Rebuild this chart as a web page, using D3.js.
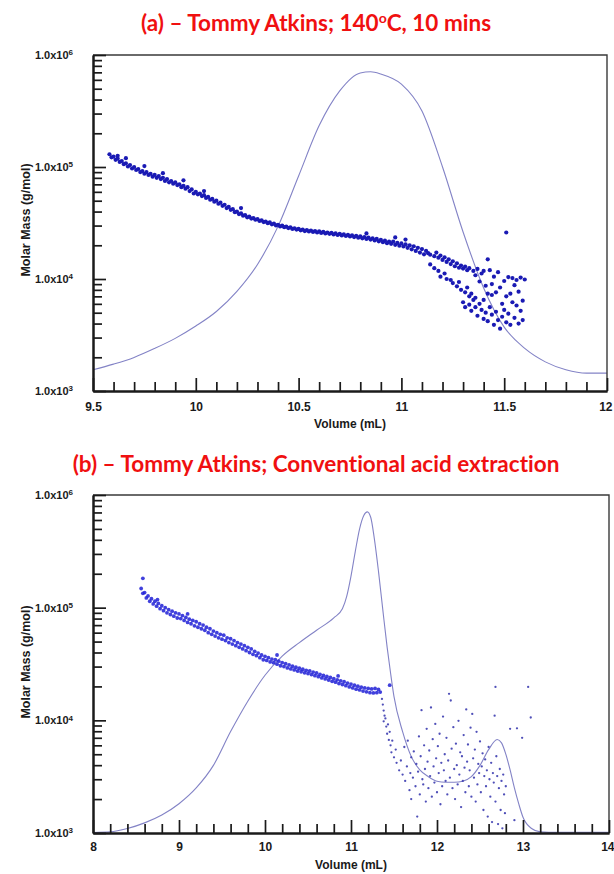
<!DOCTYPE html>
<html>
<head>
<meta charset="utf-8">
<script src="https://cdn.jsdelivr.net/npm/d3@7"></script>
<style>
  body { margin: 0; background: #fff; }
  svg { display: block; }
</style>
</head>
<body>
<svg id="chart" width="614" height="874"></svg>
<script>
// Chart size
const width = 614;
const height = 874;

// Shared y axis (molar mass, log)
const yMajorTicks = [1e3, 1e4, 1e5, 1e6];

// ---- Panel (a): Tommy Atkins; 140 °C, 10 mins ----
const titleA = ['(a) \u2013 Tommy Atkins; 140', 'o', 'C, 10 mins'];
const xDomainA = [9.5, 12];
const xMajorTicksA = [9.5, 10, 10.5, 11, 11.5, 12];
const xTickLabelsA = ['9.5', '10', '10.5', '11', '11.5', '12'];
const xMinorTicksA = [9.6, 9.7, 9.8, 9.9, 10.1, 10.2, 10.3, 10.4, 10.6, 10.7, 10.8, 10.9,
  11.1, 11.2, 11.3, 11.4, 11.6, 11.7, 11.8, 11.9];

// RI trace of panel (a), placed on the molar mass axis [volume, value]
const traceA = [
  [9.5, 1549], [9.6, 1738], [9.7, 1995], [9.8, 2399], [9.9, 2951], [10.0, 3802],
  [10.1, 5129], [10.2, 7762], [10.3, 13490], [10.4, 29510], [10.5, 83180], [10.6, 234400],
  [10.7, 478600], [10.8, 691800], [10.85, 707900], [10.9, 676100], [11.0, 549500],
  [11.1, 316200], [11.2, 100000], [11.3, 26300], [11.4, 8318], [11.5, 3715], [11.6, 2399],
  [11.7, 1820], [11.8, 1549], [11.9, 1445], [12.0, 1445]
];

// Molar mass points of panel (a) [volume (mL), g/mol]
const massA = [
  [9.58, 130e3], [9.59, 122e3], [9.60, 124e3], [9.61, 116e3], [9.62, 119e3], [9.63, 111e3],
  [9.64, 113e3], [9.65, 106e3], [9.66, 108e3], [9.67, 101e3], [9.68, 104e3], [9.69, 97e3],
  [9.70, 100e3], [9.71, 94e3], [9.72, 96e3], [9.73, 90e3], [9.74, 92e3], [9.75, 87e3],
  [9.76, 90e3], [9.77, 85e3], [9.78, 87e3], [9.79, 82e3], [9.80, 85e3], [9.81, 80e3],
  [9.82, 83e3], [9.83, 78e3], [9.84, 80e3], [9.85, 75e3], [9.86, 78e3], [9.87, 73e3],
  [9.88, 75e3], [9.89, 71e3], [9.90, 73e3], [9.91, 69e3], [9.92, 70e3], [9.93, 66e3],
  [9.94, 68e3], [9.95, 64e3], [9.96, 66e3], [9.97, 61e3], [9.98, 63e3], [9.99, 58e3],
  [10.00, 60e3], [10.01, 57e3], [10.02, 58e3], [10.03, 55e3], [10.04, 56e3], [10.05, 53e3],
  [10.06, 54e3], [10.07, 51e3], [10.08, 52e3], [10.09, 49e3], [10.10, 50e3], [10.11, 47e3],
  [10.12, 48e3], [10.13, 45e3], [10.14, 46e3], [10.15, 43e3], [10.16, 44e3], [10.17, 41.5e3],
  [10.18, 42e3], [10.19, 39.5e3], [10.20, 40e3], [10.21, 38e3], [10.22, 38.5e3], [10.23, 36.8e3],
  [10.24, 37.2e3], [10.25, 35.5e3], [10.26, 36e3], [10.27, 34.6e3], [10.28, 35e3], [10.29, 33.8e3],
  [10.30, 34.2e3], [10.31, 33e3], [10.32, 33.4e3], [10.33, 32.2e3], [10.34, 32.6e3], [10.35, 31.5e3],
  [10.36, 32e3], [10.37, 30.8e3], [10.38, 31.2e3], [10.39, 30.1e3], [10.40, 30.5e3], [10.41, 29.5e3],
  [10.42, 30e3], [10.43, 29e3], [10.44, 29.4e3], [10.45, 28.5e3], [10.46, 28.9e3], [10.47, 28e3],
  [10.48, 28.4e3], [10.49, 27.6e3], [10.50, 28e3], [10.51, 27.2e3], [10.52, 27.6e3], [10.53, 26.8e3],
  [10.54, 27.3e3], [10.55, 26.6e3], [10.56, 27.1e3], [10.57, 26.3e3], [10.58, 26.8e3], [10.59, 26e3],
  [10.60, 26.6e3], [10.61, 25.8e3], [10.62, 26.3e3], [10.63, 25.5e3], [10.64, 26e3], [10.65, 25.3e3],
  [10.66, 25.8e3], [10.67, 25e3], [10.68, 25.5e3], [10.69, 24.7e3], [10.70, 25.3e3], [10.71, 24.5e3],
  [10.72, 25e3], [10.73, 24.2e3], [10.74, 24.8e3], [10.75, 24e3], [10.76, 24.5e3], [10.77, 23.7e3],
  [10.78, 24.3e3], [10.79, 23.4e3], [10.80, 24e3], [10.81, 23.1e3], [10.82, 23.7e3], [10.83, 22.8e3],
  [10.84, 23.4e3], [10.85, 22.5e3], [10.86, 23.1e3], [10.87, 22.1e3], [10.88, 22.8e3], [10.89, 21.7e3],
  [10.90, 22.4e3], [10.91, 21.3e3], [10.92, 22e3], [10.93, 20.9e3], [10.94, 21.6e3], [10.95, 20.6e3],
  [10.96, 21.6e3], [10.97, 20.2e3], [10.98, 21e3], [10.99, 19.8e3], [11.00, 20.8e3], [11.01, 19.5e3],
  [11.02, 20.4e3], [11.03, 19e3], [11.04, 20e3], [11.05, 18.4e3], [11.06, 19.6e3], [11.07, 17.8e3],
  [11.08, 19e3], [11.09, 17.2e3], [11.10, 18.5e3], [11.11, 16.6e3], [11.12, 17.8e3],
  // spikes above the band
  [9.62, 126e3], [9.66, 120e3], [9.75, 102e3], [9.84, 88e3], [9.94, 76e3], [10.04, 61e3],
  [10.22, 43e3], [10.83, 25.5e3], [10.97, 23.5e3], [11.02, 22.5e3],
  // upper branch
  [11.13, 17e3], [11.14, 16.5e3], [11.16, 16e3], [11.17, 17.2e3], [11.18, 15.5e3], [11.19, 16.2e3],
  [11.20, 14.8e3], [11.21, 15.6e3], [11.22, 14.2e3], [11.23, 15e3], [11.24, 13.6e3], [11.25, 14.4e3],
  [11.26, 13e3], [11.27, 13.8e3], [11.28, 12.6e3], [11.29, 13.2e3], [11.30, 12.4e3], [11.31, 12.9e3],
  [11.32, 12e3], [11.33, 12.5e3], [11.35, 11.8e3], [11.37, 12.3e3], [11.39, 11.2e3],
  // lower branch
  [11.14, 13.5e3], [11.16, 12.5e3], [11.18, 11.8e3], [11.19, 10.5e3], [11.21, 11.2e3], [11.22, 10e3],
  [11.24, 9.8e3], [11.25, 9.2e3], [11.27, 8.6e3], [11.28, 9.4e3], [11.29, 8e3], [11.31, 7.6e3],
  [11.32, 8.4e3], [11.33, 7e3], [11.34, 7.4e3], [11.35, 6.5e3],
  // scattered tail
  [11.30, 6200], [11.31, 5600], [11.33, 5900], [11.34, 5200], [11.36, 6800], [11.36, 5600],
  [11.37, 4700], [11.38, 6000], [11.39, 5300], [11.40, 6500], [11.40, 4400], [11.41, 5000],
  [11.42, 15000], [11.42, 7400], [11.42, 4200], [11.43, 5600], [11.44, 4800], [11.44, 9000],
  [11.45, 3900], [11.45, 10500], [11.46, 5100], [11.46, 7600], [11.47, 4300], [11.47, 11500],
  [11.48, 3600], [11.48, 8400], [11.49, 6000], [11.49, 4600], [11.50, 9600], [11.50, 5300],
  [11.51, 26000], [11.51, 7000], [11.51, 4100], [11.52, 10400], [11.52, 4900], [11.53, 7400],
  [11.53, 3900], [11.54, 10200], [11.54, 6200], [11.55, 4500], [11.55, 8800], [11.56, 9800],
  [11.56, 5800], [11.57, 4000], [11.57, 7700], [11.58, 10300], [11.58, 5200], [11.59, 6400],
  [11.59, 4300], [11.60, 9900], [11.36, 10800], [11.38, 9500], [11.40, 11800], [11.41, 8700],
  [11.43, 12000], [11.44, 7200]
];

// ---- Panel (b): Tommy Atkins; conventional acid extraction ----
const titleB = ['(b) \u2013 Tommy Atkins; Conventional acid extraction'];
const xDomainB = [8, 14];
const xMajorTicksB = [8, 9, 10, 11, 12, 13, 14];
const xTickLabelsB = ['8', '9', '10', '11', '12', '13', '14'];
const xMinorTicksB = [8.2, 8.4, 8.6, 8.8, 9.2, 9.4, 9.6, 9.8, 10.2, 10.4, 10.6, 10.8,
  11.2, 11.4, 11.6, 11.8, 12.2, 12.4, 12.6, 12.8, 13.2, 13.4, 13.6, 13.8];

const traceB = [
  [8.0, 1010], [8.2, 1023], [8.4, 1096], [8.6, 1230], [8.8, 1445], [9.0, 1820], [9.2, 2512],
  [9.4, 3981], [9.6, 7943], [9.8, 14790], [10.0, 25120], [10.2, 37150], [10.4, 48980],
  [10.6, 63100], [10.8, 81280], [10.9, 97720], [10.95, 125900], [11.0, 190500], [11.05, 316200],
  [11.1, 501200], [11.15, 660700], [11.19, 707900], [11.23, 631000], [11.27, 416900],
  [11.32, 208900], [11.37, 95500], [11.42, 44670], [11.46, 26300], [11.5, 16220], [11.6, 7943],
  [11.7, 4786], [11.8, 3631], [11.9, 3162], [12.0, 2884], [12.1, 2818], [12.2, 2818],
  [12.3, 2884], [12.4, 3162], [12.5, 3981], [12.6, 5495], [12.7, 6761], [12.75, 6310],
  [12.8, 5012], [12.85, 3631], [12.9, 2512], [12.95, 1820], [13.0, 1380], [13.1, 1096],
  [13.2, 1023], [13.4, 1012], [14.0, 1012]
];

// Main molar mass band of panel (b)
const bandB = [
  [8.56, 148e3], [8.58, 134e3], [8.60, 136e3], [8.62, 122e3], [8.64, 127e3], [8.66, 114e3],
  [8.68, 120e3], [8.70, 108e3], [8.72, 114e3], [8.74, 103e3], [8.76, 109e3], [8.78, 98e3],
  [8.80, 104e3], [8.82, 94e3], [8.84, 100e3], [8.86, 90e3], [8.88, 96e3], [8.90, 87e3],
  [8.92, 93e3], [8.94, 84e3], [8.96, 90e3], [8.98, 81e3], [9.00, 88e3], [9.02, 80e3],
  [9.04, 85e3], [9.06, 77e3], [9.08, 82e3], [9.10, 74e3], [9.12, 79e3], [9.14, 72e3],
  [9.16, 77e3], [9.18, 69e3], [9.20, 75e3], [9.22, 67e3], [9.24, 72e3], [9.26, 65e3],
  [9.28, 70e3], [9.30, 63e3], [9.32, 67e3], [9.34, 60e3], [9.36, 65e3], [9.38, 58e3],
  [9.40, 62e3], [9.42, 56e3], [9.44, 60e3], [9.46, 54e3], [9.48, 58e3], [9.50, 52.5e3],
  [9.52, 57e3], [9.54, 51e3], [9.56, 54e3], [9.58, 49e3], [9.60, 53e3], [9.62, 47.5e3],
  [9.64, 51e3], [9.66, 46e3], [9.68, 49e3], [9.70, 44.5e3], [9.72, 47.5e3], [9.74, 43e3],
  [9.76, 46e3], [9.78, 41.5e3], [9.80, 44.5e3], [9.82, 40e3], [9.84, 43e3], [9.86, 38.5e3],
  [9.88, 41e3], [9.90, 37.5e3], [9.92, 39.5e3], [9.94, 36e3], [9.96, 38e3], [9.98, 34.5e3],
  [10.00, 37e3], [10.02, 34e3], [10.04, 36e3], [10.06, 33e3], [10.08, 35e3], [10.10, 32.5e3],
  [10.12, 34.5e3], [10.14, 31.5e3], [10.16, 33.5e3], [10.18, 30.5e3], [10.20, 32.5e3], [10.22, 30e3],
  [10.24, 31.8e3], [10.26, 29.2e3], [10.28, 31e3], [10.30, 28.6e3], [10.32, 30.2e3], [10.34, 28e3],
  [10.36, 29.6e3], [10.38, 27.4e3], [10.40, 29e3], [10.42, 27e3], [10.44, 28.4e3], [10.46, 26.4e3],
  [10.48, 27.8e3], [10.50, 26e3], [10.52, 27.4e3], [10.54, 25.5e3], [10.56, 26.8e3], [10.58, 24.9e3],
  [10.60, 26.3e3], [10.62, 24.4e3], [10.64, 25.6e3], [10.66, 23.8e3], [10.68, 25e3], [10.70, 23.3e3],
  [10.72, 24.5e3], [10.74, 22.8e3], [10.76, 24e3], [10.78, 22.2e3], [10.80, 23.4e3], [10.82, 21.8e3],
  [10.84, 22.9e3], [10.86, 21.2e3], [10.88, 22.4e3], [10.90, 20.8e3], [10.92, 22e3], [10.94, 20.3e3],
  [10.96, 21.4e3], [10.98, 19.8e3], [11.00, 21e3], [11.02, 19.4e3], [11.04, 20.5e3], [11.06, 18.9e3],
  [11.08, 20.1e3], [11.10, 18.6e3], [11.12, 19.7e3], [11.14, 18.2e3], [11.16, 19.4e3], [11.18, 17.9e3],
  [11.20, 19.2e3], [11.22, 17.6e3], [11.24, 19e3], [11.26, 17.5e3], [11.28, 19.2e3], [11.30, 17.6e3],
  [11.32, 18.8e3], [11.34, 17.8e3],
  [8.58, 182e3], [8.75, 118e3], [9.10, 88e3], [10.14, 38e3], [10.85, 24.8e3], [11.45, 20.5e3]
];

// Low molar mass points of panel (b)
const cloudB = [
  [11.36, 15500], [11.37, 13800], [11.38, 12200], [11.39, 11000], [11.38, 9800], [11.40, 10400],
  [11.41, 8800], [11.42, 7600], [11.43, 9200], [11.44, 6700], [11.45, 7900], [11.46, 6000],
  [11.47, 5200], [11.48, 6600], [11.50, 4700], [11.52, 5500], [11.53, 4200],
  [11.56, 3600], [11.58, 4400], [11.60, 3300], [11.62, 5800], [11.63, 2900], [11.65, 3900],
  [11.66, 6600], [11.68, 2400], [11.69, 3400], [11.70, 4700], [11.70, 2000], [11.72, 3100],
  [11.73, 5300], [11.75, 2600], [11.76, 4100], [11.77, 1400], [11.78, 3500], [11.79, 7200],
  [11.80, 2200], [11.81, 4800], [11.82, 12300], [11.83, 3000], [11.84, 2700], [11.85, 6000],
  [11.86, 3700], [11.87, 1900], [11.88, 8400], [11.89, 4300], [11.90, 2500], [11.91, 5400],
  [11.92, 3200], [11.93, 13000], [11.94, 2100], [11.95, 6800], [11.96, 3900], [11.97, 2800],
  [11.98, 9300], [11.99, 4600], [12.00, 2300], [12.01, 5900], [12.02, 3400], [12.03, 7600],
  [12.04, 1800], [12.05, 4200], [12.06, 2600], [12.07, 10800], [12.08, 3600], [12.09, 5000],
  [12.10, 2900], [12.11, 7000], [12.12, 2200], [12.13, 4400], [12.14, 17200], [12.15, 3100],
  [12.16, 15000], [12.17, 5600], [12.18, 2500], [12.19, 8700], [12.20, 3700], [12.21, 2000],
  [12.22, 6200], [12.23, 4000], [12.24, 2700], [12.25, 9900], [12.26, 3300], [12.27, 5200],
  [12.28, 1700], [12.29, 4800], [12.30, 2900], [12.31, 7400], [12.32, 3800], [12.33, 2300],
  [12.34, 12500], [12.35, 4300], [12.36, 6100], [12.37, 2600], [12.38, 3600], [12.39, 8600],
  [12.40, 2100], [12.41, 11400], [12.42, 4600], [12.43, 3100], [12.44, 5500], [12.45, 1900],
  [12.46, 7900], [12.47, 2700], [12.48, 4100], [12.49, 3400], [12.50, 6500], [12.51, 2300],
  [12.52, 3900], [12.53, 5100], [12.54, 1600], [12.55, 3200], [12.56, 4500], [12.57, 2600],
  [12.58, 3600], [12.59, 1400], [12.60, 5800], [12.61, 3000], [12.62, 2100], [12.63, 4200],
  [12.64, 1250], [12.65, 3400], [12.66, 2800], [12.67, 11000], [12.68, 19800], [12.68, 1900],
  [12.69, 4800], [12.70, 3200], [12.71, 1200], [12.72, 2500], [12.73, 3700], [12.74, 1600],
  [12.75, 2900], [12.76, 1100], [12.77, 3300], [12.78, 2200], [12.79, 1500], [12.80, 2600],
  [12.85, 8400], [12.90, 1300], [12.93, 8500], [12.99, 7000], [13.06, 19800], [13.09, 10600]
];

// Layout of the two panels
const panels = [
  { title: titleA, titleY: 31, xDomain: xDomainA, xMajor: xMajorTicksA, xLabels: xTickLabelsA,
    xMinor: xMinorTicksA, trace: traceA, left: 93, right: 607, top: 55, bottom: 391,
    xPad: 11, xTitleY: 424, yTitleY: 220,
    series: [{ data: massA, r: 2.1, fill: '#1a1ab4', opacity: 1 }] },
  { title: titleB, titleY: 472, xDomain: xDomainB, xMajor: xMajorTicksB, xLabels: xTickLabelsB,
    xMinor: xMinorTicksB, trace: traceB, left: 93, right: 609, top: 495, bottom: 833,
    xPad: 9, xTitleY: 865, yTitleY: 662,
    series: [
      { data: bandB, r: 1.9, fill: '#1e1ed6', opacity: 0.85 },
      { data: cloudB, r: 1.15, fill: '#3c3cb0', opacity: 0.9 }
    ] }
];

const svg = d3.select('#chart');
svg.append('rect').attr('width', width).attr('height', height).attr('fill', '#fff');

const labelFont = "'Liberation Sans', Arial, sans-serif";

panels.forEach(drawPanel);

function drawPanel(p) {
  const x = d3.scaleLinear().domain(p.xDomain).range([p.left, p.right]);
  const y = d3.scaleLog().domain([1e3, 1e6]).range([p.bottom, p.top]);

  // Title (red)
  const title = svg.append('text')
    .attr('x', 316)
    .attr('y', p.titleY)
    .attr('text-anchor', 'middle')
    .attr('font-family', "Lato, 'Open Sans', sans-serif")
    .attr('font-weight', 'bold')
    .attr('font-size', 22.5)
    .style('font-variant-ligatures', 'none')
    .attr('fill', '#f01010');
  title.append('tspan').text(p.title[0]);
  if (p.title.length > 1) {
    title.append('tspan').attr('dy', -8).attr('font-size', 14).text(p.title[1]);
    title.append('tspan').attr('dy', 8).text(p.title[2]);
  }

  // RI trace
  const line = d3.line()
    .x(d => x(d[0]))
    .y(d => y(d[1]))
    .curve(d3.curveMonotoneX);
  svg.append('path')
    .datum(p.trace)
    .attr('d', line)
    .attr('fill', 'none')
    .attr('stroke', '#8383c6')
    .attr('stroke-width', 1.1);

  // Molar mass points
  p.series.forEach(s => {
    svg.append('g')
      .selectAll('circle')
      .data(s.data)
      .join('circle')
        .attr('cx', d => x(d[0]))
        .attr('cy', d => y(d[1]))
        .attr('r', s.r)
        .attr('fill', s.fill)
        .attr('fill-opacity', s.opacity);
  });

  // Frame (top and right)
  svg.append('path')
    .attr('d', `M${p.left},${p.top}H${p.right}V${p.bottom}`)
    .attr('fill', 'none')
    .attr('stroke', '#3a3a3a')
    .attr('stroke-width', 1.4);

  // x axis: minor ticks then major ticks with labels (ticks point inward)
  svg.append('g')
    .attr('transform', `translate(0,${p.bottom})`)
    .call(d3.axisBottom(x).tickValues(p.xMinor).tickSize(-9).tickSizeOuter(0).tickFormat(''))
    .call(styleAxis);
  svg.append('g')
    .attr('transform', `translate(0,${p.bottom})`)
    .call(d3.axisBottom(x).tickValues(p.xMajor).tickSize(-13).tickSizeOuter(0).tickPadding(p.xPad)
      .tickFormat((d, i) => p.xLabels[i]))
    .call(styleAxis)
    .call(g => g.selectAll('text').attr('font-size', 12))
    .call(g => g.selectAll('.tick:last-of-type text').attr('text-anchor', 'end').attr('dx', 5));

  // y axis: log minor ticks then decades
  const yMinor = [];
  yMajorTicks.slice(0, -1).forEach(v => {
    for (let m = 2; m <= 9; m++) yMinor.push(m * v);
  });
  svg.append('g')
    .attr('transform', `translate(${p.left},0)`)
    .call(d3.axisLeft(y).tickValues(yMinor).tickSize(-9).tickSizeOuter(0).tickFormat(''))
    .call(styleAxis);
  svg.append('g')
    .attr('transform', `translate(${p.left},0)`)
    .call(d3.axisLeft(y).tickValues(yMajorTicks).tickSize(-13).tickSizeOuter(0).tickPadding(20))
    .call(styleAxis)
    .call(g => g.selectAll('.tick text').each(function (d) {
      const t = d3.select(this).attr('font-size', 11).text('1.0x10');
      t.append('tspan')
        .attr('dy', '-0.45em')
        .attr('font-size', 8)
        .text(Math.round(Math.log10(d)));
    }));

  // Axis titles
  svg.append('text')
    .attr('x', (p.left + p.right) / 2)
    .attr('y', p.xTitleY)
    .attr('text-anchor', 'middle')
    .attr('dy', '0.35em')
    .attr('font-family', labelFont)
    .attr('font-weight', 'bold')
    .attr('font-size', 12)
    .attr('fill', '#1a1a1a')
    .text('Volume (mL)');

  svg.append('text')
    .attr('transform', `translate(26,${p.yTitleY}) rotate(-90)`)
    .attr('text-anchor', 'middle')
    .attr('dy', '0.35em')
    .attr('font-family', labelFont)
    .attr('font-weight', 'bold')
    .attr('font-size', 12.5)
    .attr('fill', '#1a1a1a')
    .text('Molar Mass (g/mol)');
}

function styleAxis(g) {
  g.select('.domain').attr('stroke', '#1a1a1a').attr('stroke-width', 2);
  g.selectAll('.tick line').attr('stroke', '#1a1a1a').attr('stroke-width', 1.7);
  g.selectAll('.tick text')
    .attr('font-family', labelFont)
    .attr('font-weight', 'bold')
    .attr('fill', '#1a1a1a');
}
</script>
</body>
</html>
